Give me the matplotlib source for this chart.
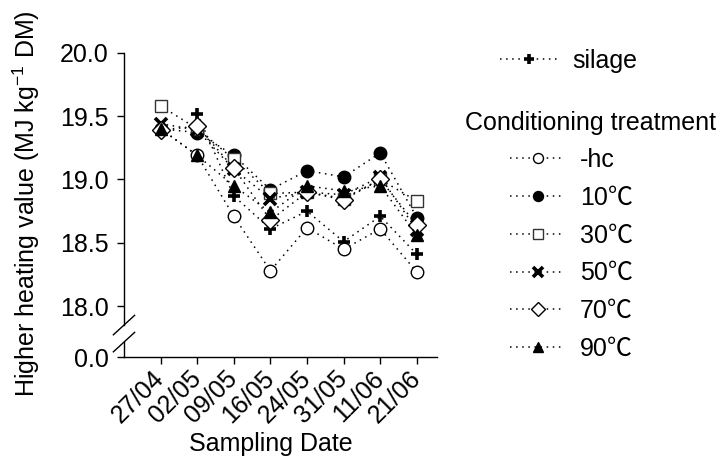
import numpy as np
import matplotlib
matplotlib.use('Agg')
import matplotlib.pyplot as plt

plt.rcParams['font.family'] = ['Liberation Sans', 'Noto Sans CJK SC', 'DejaVu Sans']
plt.rcParams['mathtext.fontset'] = 'custom'
plt.rcParams['mathtext.rm'] = 'Liberation Sans'

# data
dates = ['27/04', '02/05', '09/05', '16/05', '24/05', '31/05', '11/06', '21/06']
silage = [np.nan, 19.52, 18.87, 18.61, 18.75, 18.51, 18.71, 18.41]
hc = [19.40, 19.19, 18.71, 18.28, 18.62, 18.45, 18.61, 18.27]
c10 = [19.40, 19.37, 19.19, 18.92, 19.07, 19.02, 19.21, 18.70]
c30 = [19.58, 19.40, 19.16, 18.89, 18.90, 18.85, 19.00, 18.83]
c50 = [19.44, 19.39, 19.08, 18.85, 18.90, 18.88, 19.02, 18.60]
c70 = [19.39, 19.42, 19.09, 18.68, 18.90, 18.84, 19.00, 18.64]
c90 = [19.40, 19.19, 18.95, 18.74, 18.95, 18.91, 18.95, 18.56]
yticks = [17.6, 18.0, 18.5, 19.0, 19.5, 20.0]
ylabels = ['0.0', '18.0', '18.5', '19.0', '19.5', '20.0']

FS = 18
W, H = 723, 468
fig = plt.figure(figsize=(W / 100, H / 100), dpi=100)
ax = fig.add_axes([124 / W, 1 - 357 / H, (437 - 124) / W, (357 - 52.7) / H])

x = np.arange(len(dates))
dot = (0, (1, 3))
common = dict(color='black', linestyle=dot, linewidth=1.1, markersize=9)

l_sil = ax.plot(x, silage, marker='+', markeredgewidth=2.6, markersize=9, color='black', linestyle=dot, linewidth=1.1)[0]
l_hc = ax.plot(x, hc, marker='o', markerfacecolor='white', markeredgecolor='black', markeredgewidth=1, **common)[0]
l_10 = ax.plot(x, c10, marker='o', markerfacecolor='black', markeredgecolor='black', **common)[0]
l_30 = ax.plot(x, c30, marker='s', markerfacecolor='white', markeredgecolor='#333333', markeredgewidth=1, **common)[0]
l_50 = ax.plot(x, c50, marker='x', markeredgewidth=2.6, **common)[0]
l_70 = ax.plot(x, c70, marker='D', markerfacecolor='white', markeredgecolor='black', markeredgewidth=1, **common)[0]
l_90 = ax.plot(x, c90, marker='^', markerfacecolor='black', markeredgecolor='black', **common)[0]

ax.set_xlim(-1, 7.55)
ax.set_ylim(17.6, 20.0)
ax.set_xticks(x)
ax.set_xticklabels(dates, rotation=45, ha='right', va='center', rotation_mode='anchor', fontsize=FS)
ax.set_yticks(yticks)
ax.set_yticklabels(ylabels, fontsize=FS)
ax.tick_params(axis='both', direction='out', length=5, width=1)
ax.tick_params(axis='y', pad=6)
ax.tick_params(axis='x', pad=8)

for s in ['top', 'right', 'left']:
    ax.spines[s].set_visible(False)
ax.spines['bottom'].set_linewidth(1)

# y axis with a break
tr = ax.transAxes
kw = dict(transform=tr, color='black', linewidth=1, clip_on=False)
ax.plot([0, 0], [0.105, 1], **kw)
ax.plot([0, 0], [0, 0.049], **kw)
ax.plot([-0.034, 0.034], [0.105 - 0.032, 0.105 + 0.032], **kw)
ax.plot([-0.034, 0.034], [0.049 - 0.032, 0.049 + 0.032], **kw)

fig.text(26 / W, 1 - 204 / H, 'Higher heating value (MJ kg$^{-1}$ DM)', rotation=90,
         ha='center', va='center', fontsize=FS)
fig.text(271 / W, 1 - 444 / H, 'Sampling Date', ha='center', va='center', fontsize=FS)

leg1 = ax.legend([l_sil], ['silage'], loc='upper left', bbox_to_anchor=(500 / W, 1 - 49 / H),
                 bbox_transform=fig.transFigure, frameon=False, fontsize=FS, borderpad=0,
                 borderaxespad=0, handlelength=2.28, handletextpad=0.6, markerscale=0.8)
ax.add_artist(leg1)
fig.text(465 / W, 1 - 123 / H, 'Conditioning treatment', ha='left', va='center', fontsize=FS)
ax.legend([l_hc, l_10, l_30, l_50, l_70, l_90], ['-hc', '10℃', '30℃', '50℃', '70℃', '90℃'],
          loc='upper left', bbox_to_anchor=(510 / W, 1 - 148 / H), bbox_transform=fig.transFigure,
          frameon=False, fontsize=FS, borderpad=0, borderaxespad=0, handlelength=2.2,
          handletextpad=0.6, labelspacing=0.55, markerscale=0.8)

fig.savefig('out.png', dpi=100)
